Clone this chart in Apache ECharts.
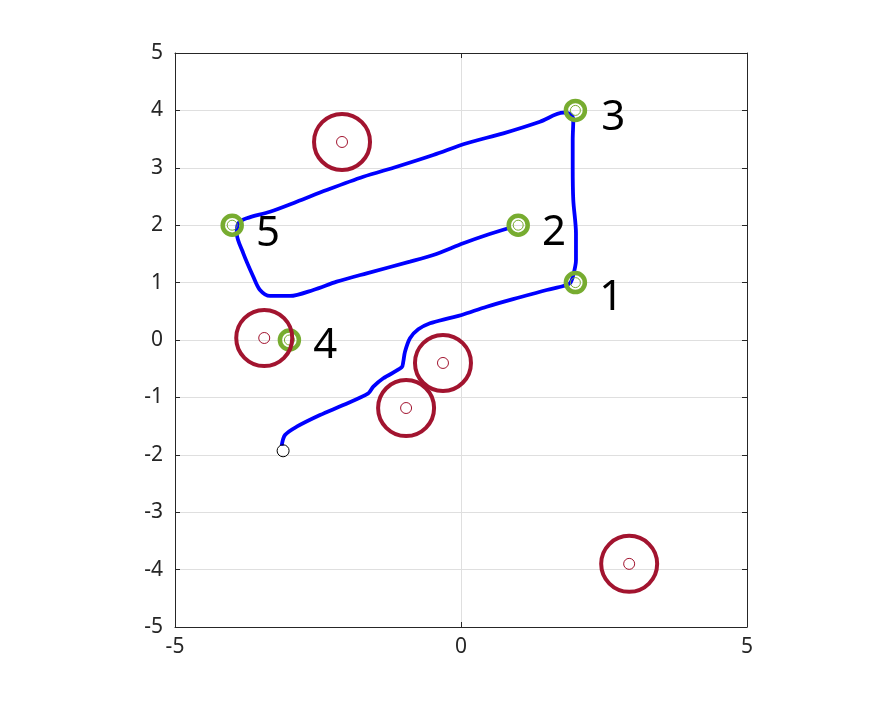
<!DOCTYPE html>
<html>
<head>
<meta charset="utf-8">
<title>trajectory</title>
<script src="https://cdn.jsdelivr.net/npm/echarts@6/dist/echarts.min.js"></script>
<style>
  html, body { margin: 0; padding: 0; background: #ffffff; }
  #chart { width: 891px; height: 703px; }
</style>
</head>
<body>
<div id="chart"></div>
<script>
// robot path
const pathX = [-3.135, -3.077, -2.872, -2.465, -2.058, -1.621, -1.533, -1.358, -1.037, -1.009, -0.979, -0.892, -0.747, -0.542, -0.222,
  0.012, 0.449, 1.031, 1.498, 1.789, 1.906, 1.963, 2.01, 2.01, 1.963, 1.953, 1.953, 1.963, 1.906, 1.789,
  1.381, 0.740, 0.100, -0.484, -1.124, -1.708, -2.348, -2.872, -3.339, -3.747, -3.893,
  -3.921, -3.806, -3.631, -3.514, -3.339, -2.99, -2.582, -2.173, -1.649, -0.892, -0.484, 0.04, 0.449, 0.827]
const pathY = [-1.84, -1.655, -1.51, -1.307, -1.132, -0.929, -0.813, -0.667, -0.476, -0.378, -0.204, 0.03, 0.186, 0.291, 0.378,
  0.436, 0.58, 0.744, 0.871, 0.941, 0.988, 1.132, 1.394, 1.859, 2.439, 3.019, 3.484, 3.833, 3.937, 3.96,
  3.803, 3.601, 3.427, 3.223, 3.019, 2.845, 2.613, 2.409, 2.235, 2.12, 2.033,
  1.859, 1.51, 1.103, 0.871, 0.767, 0.767, 0.871, 1.016, 1.162, 1.364, 1.481, 1.685, 1.829, 1.946]

// waypoints and obstacles
const waypointX = [2, 1, 2, -3, -4]
const waypointY = [1, 2, 4, 0, 2]
const waypointNames = ['1', '2', '3', '4', '5']
const obstacleX = [-2.08, -3.44, -0.315, -0.96, 2.94]
const obstacleY = [3.45, 0.035, -0.40, -1.185, -3.90]
const startPoint = [-3.11, -1.93]

const xTicks = [-5, 0, 5]
const yTicks = [-5, -4, -3, -2, -1, 0, 1, 2, 3, 4, 5]

const green = '#77ac30'
const red = '#a2142f'
const labelOffsets = [[0, 15], [0, 8], [2, 8], [0, 6], [0, 9]]

const chart = echarts.init(document.getElementById('chart'))

const axisText = {
  color: '#262626',
  fontSize: 21,
  fontFamily: 'Noto Sans'
}
const boxLine = { show: true, onZero: false, lineStyle: { color: '#262626' } }
const boxTick = { show: true, inside: true, length: 5, lineStyle: { color: '#262626' } }

const option = {
  backgroundColor: '#ffffff',
  animation: false,
  grid: {
    left: 175,
    right: 144,
    top: 53,
    bottom: 76
  },
  xAxis: [{
    type: 'value',
    min: xTicks[0],
    max: xTicks[xTicks.length - 1],
    interval: 5,
    axisLine: boxLine,
    axisTick: boxTick,
    axisLabel: { ...axisText, margin: 10 },
    splitLine: { show: true, lineStyle: { color: '#dfdfdf' } }
  }, {
    type: 'value',
    position: 'top',
    min: -5,
    max: 5,
    interval: 5,
    axisLine: boxLine,
    axisTick: boxTick,
    axisLabel: { show: false },
    splitLine: { show: false }
  }],
  yAxis: [{
    type: 'value',
    min: yTicks[0],
    max: yTicks[yTicks.length - 1],
    interval: 1,
    axisLine: boxLine,
    axisTick: boxTick,
    axisLabel: { ...axisText, margin: 12 },
    splitLine: { show: true, lineStyle: { color: '#dfdfdf' } }
  }, {
    type: 'value',
    position: 'right',
    min: -5,
    max: 5,
    interval: 1,
    axisLine: boxLine,
    axisTick: boxTick,
    axisLabel: { show: false },
    splitLine: { show: false }
  }],
  series: [
    {
      name: 'path',
      type: 'line',
      data: pathX.map((x, i) => [x, pathY[i]]),
      smooth: 0.3,
      showSymbol: false,
      lineStyle: { color: '#0000ff', width: 3.8 },
      z: 3
    },
    {
      name: 'waypoint',
      type: 'scatter',
      data: waypointX.map((x, i) => ({
        value: [x, waypointY[i]],
        name: waypointNames[i],
        label: { offset: labelOffsets[i] }
      })),
      symbol: 'circle',
      symbolSize: 19,
      itemStyle: { color: 'rgba(0,0,0,0)', borderColor: green, borderWidth: 4.5, opacity: 1 },
      label: {
        show: true,
        position: 'right',
        distance: 12,
        formatter: p => p.name,
        color: '#000000',
        fontSize: 42,
        fontFamily: 'Noto Sans'
      },
      z: 4
    },
    {
      name: 'waypoint inner',
      type: 'scatter',
      data: waypointX.map((x, i) => [x, waypointY[i]]),
      symbol: 'circle',
      symbolSize: 10,
      itemStyle: { color: 'rgba(0,0,0,0)', borderColor: green, borderWidth: 1, opacity: 1 },
      z: 4
    },
    {
      name: 'obstacle',
      type: 'scatter',
      data: obstacleX.map((x, i) => [x, obstacleY[i]]),
      symbol: 'circle',
      symbolSize: 56,
      itemStyle: { color: 'rgba(0,0,0,0)', borderColor: red, borderWidth: 4, opacity: 1 },
      z: 5
    },
    {
      name: 'obstacle centre',
      type: 'scatter',
      data: obstacleX.map((x, i) => [x, obstacleY[i]]),
      symbol: 'circle',
      symbolSize: 11,
      itemStyle: { color: 'rgba(0,0,0,0)', borderColor: red, borderWidth: 1, opacity: 1 },
      z: 5
    },
    {
      name: 'start',
      type: 'scatter',
      data: [startPoint],
      symbol: 'circle',
      symbolSize: 12,
      itemStyle: { color: 'rgba(0,0,0,0)', borderColor: '#000000', borderWidth: 1, opacity: 1 },
      z: 6
    }
  ]
}

chart.setOption(option)
</script>
</body>
</html>
